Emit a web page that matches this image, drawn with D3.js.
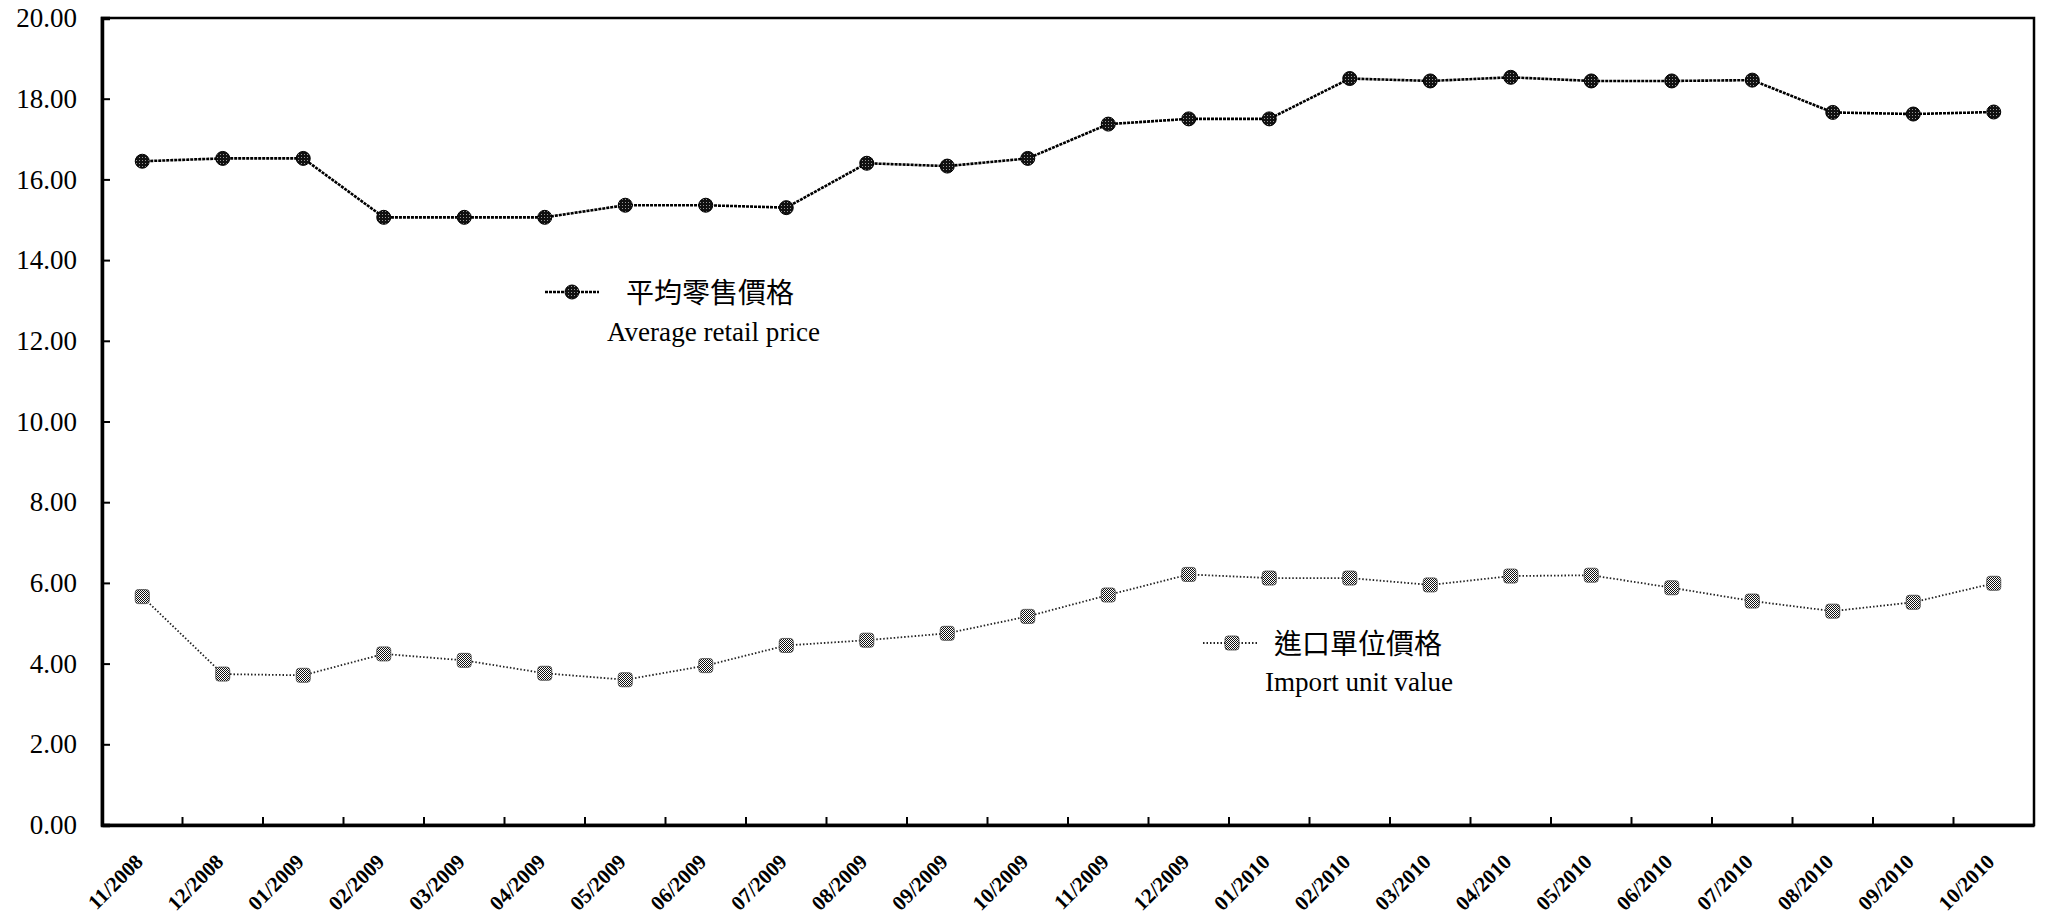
<!DOCTYPE html>
<html>
<head>
<meta charset="utf-8">
<script src="https://cdn.jsdelivr.net/npm/d3@7"></script>
<style>
  body { margin: 0; background: #fff; }
</style>
</head>
<body>
<div id="chart"></div>
<script>
// data
const months = ["11/2008","12/2008","01/2009","02/2009","03/2009","04/2009","05/2009","06/2009",
  "07/2009","08/2009","09/2009","10/2009","11/2009","12/2009","01/2010","02/2010",
  "03/2010","04/2010","05/2010","06/2010","07/2010","08/2010","09/2010","10/2010"];

const retailPrice = [16.45, 16.52, 16.52, 15.06, 15.06, 15.06, 15.36, 15.36,
  15.30, 16.40, 16.33, 16.52, 17.37, 17.50, 17.50, 18.50,
  18.44, 18.53, 18.44, 18.44, 18.46, 17.66, 17.62, 17.67];

const importValue = [5.66, 3.74, 3.71, 4.24, 4.08, 3.76, 3.60, 3.95,
  4.45, 4.58, 4.75, 5.17, 5.70, 6.21, 6.12, 6.12,
  5.95, 6.17, 6.19, 5.88, 5.55, 5.30, 5.52, 5.99];

const yTicks = [0, 2, 4, 6, 8, 10, 12, 14, 16, 18, 20];

const retailLabel = ["平均零售價格", "Average retail price"];
const importLabel = ["進口單位價格", "Import unit value"];

function drawChart() {
  var width = 2046;
  var height = 918;
  var left = 102, right = 2034, top = 18, bottom = 825;

  let svg = d3.select("#chart")
    .append("svg")
    .attr("width", width)
    .attr("height", height);

  let defs = svg.append("defs");
  // dark speckled fill for the retail dots
  let dots = defs.append("pattern").attr("id", "dots")
    .attr("patternUnits", "userSpaceOnUse").attr("width", 3).attr("height", 3);
  dots.append("rect").attr("width", 3).attr("height", 3).attr("fill", "#111");
  dots.append("rect").attr("x", 1).attr("y", 1).attr("width", 1).attr("height", 1).attr("fill", "#999");
  // checker fill for the import markers
  let checker = defs.append("pattern").attr("id", "checker")
    .attr("patternUnits", "userSpaceOnUse").attr("width", 2).attr("height", 2);
  checker.append("rect").attr("width", 2).attr("height", 2).attr("fill", "#fff");
  checker.append("rect").attr("width", 1).attr("height", 1).attr("fill", "#111");
  checker.append("rect").attr("x", 1).attr("y", 1).attr("width", 1).attr("height", 1).attr("fill", "#111");

  var x = d3.scaleBand().domain(months).range([left, right]);
  var y = d3.scaleLinear().domain([0, 20]).range([bottom, top]);
  var cx = d => x(d) + x.bandwidth() / 2;

  // frame
  svg.append("rect")
    .attr("x", left).attr("y", top)
    .attr("width", right - left).attr("height", bottom - top)
    .attr("fill", "none").attr("stroke", "#000").attr("stroke-width", 2.5);

  // y axis
  let yAxis = svg.append("g")
    .attr("transform", `translate(${left},0)`)
    .call(d3.axisLeft(y).tickValues(yTicks).tickSize(-8).tickPadding(25).tickFormat(d3.format(".2f")));
  yAxis.select(".domain").attr("stroke-width", 3.5);
  yAxis.selectAll(".tick line").attr("stroke-width", 2);
  yAxis.selectAll("text")
    .attr("font-family", "'Liberation Serif', serif")
    .attr("font-size", 27)
    .attr("fill", "#000");

  // x axis
  let xAxis = svg.append("g")
    .attr("transform", `translate(0,${bottom})`)
    .call(d3.axisBottom(x).tickSize(0));
  xAxis.select(".domain").attr("stroke-width", 3.5);
  xAxis.selectAll("text")
    .attr("x", 0).attr("y", 0).attr("dy", 0)
    .attr("text-anchor", "end")
    .attr("transform", "translate(2,38) rotate(-45)")
    .attr("font-family", "'Liberation Serif', serif")
    .attr("font-weight", "bold")
    .attr("font-size", 21)
    .attr("fill", "#000");

  // x ticks sit between months and point up
  svg.append("g")
    .selectAll("line")
    .data(months.slice(1))
    .join("line")
    .attr("x1", d => x(d)).attr("x2", d => x(d))
    .attr("y1", bottom).attr("y2", bottom - 8)
    .attr("stroke", "#000").attr("stroke-width", 2);

  // lines
  let line = d3.line().x((d, i) => cx(months[i])).y(d => y(d));

  svg.append("path")
    .datum(retailPrice)
    .attr("d", line)
    .attr("fill", "none")
    .attr("stroke", "#000")
    .attr("stroke-width", 2.6)
    .attr("stroke-dasharray", "3,1");

  svg.append("path")
    .datum(importValue)
    .attr("d", line)
    .attr("fill", "none")
    .attr("stroke", "#222")
    .attr("stroke-width", 1.8)
    .attr("stroke-dasharray", "1.5,2");

  // markers
  svg.append("g")
    .selectAll("circle")
    .data(retailPrice)
    .join("circle")
    .attr("cx", (d, i) => cx(months[i]))
    .attr("cy", d => y(d))
    .attr("r", 7)
    .attr("fill", "url(#dots)")
    .attr("stroke", "#000")
    .attr("stroke-width", 1);

  svg.append("g")
    .selectAll("rect")
    .data(importValue)
    .join("rect")
    .attr("x", (d, i) => cx(months[i]) - 7)
    .attr("y", d => y(d) - 7)
    .attr("width", 14).attr("height", 14)
    .attr("rx", 3)
    .attr("fill", "url(#checker)")
    .attr("stroke", "#444")
    .attr("stroke-width", 0.8);

  // legends
  function legend(lx, ly, label, isRetail) {
    let g = svg.append("g");
    g.append("line")
      .attr("x1", lx).attr("x2", lx + 54)
      .attr("y1", ly).attr("y2", ly)
      .attr("stroke", isRetail ? "#000" : "#222")
      .attr("stroke-width", isRetail ? 2.4 : 1.8)
      .attr("stroke-dasharray", isRetail ? "3,1" : "1.5,2");
    if (isRetail) {
      g.append("circle").attr("cx", lx + 27).attr("cy", ly).attr("r", 7)
        .attr("fill", "url(#dots)").attr("stroke", "#000");
    } else {
      g.append("rect").attr("x", lx + 22).attr("y", ly - 7)
        .attr("width", 14).attr("height", 14).attr("rx", 3)
        .attr("fill", "url(#checker)").attr("stroke", "#444").attr("stroke-width", 0.8);
    }
    return g;
  }

  let g1 = legend(545, 292, retailLabel, true);
  g1.append("text").attr("x", 626).attr("y", 303)
    .attr("font-family", "'Noto Sans CJK TC', sans-serif")
    .attr("font-size", 28).text(retailLabel[0]);
  g1.append("text").attr("x", 607).attr("y", 341)
    .attr("font-family", "'Liberation Serif', serif")
    .attr("font-size", 27)
    .attr("textLength", 213).attr("lengthAdjust", "spacingAndGlyphs")
    .text(retailLabel[1]);

  let g2 = legend(1203, 643, importLabel, false);
  g2.append("text").attr("x", 1274).attr("y", 654)
    .attr("font-family", "'Noto Sans CJK TC', sans-serif")
    .attr("font-size", 28).text(importLabel[0]);
  g2.append("text").attr("x", 1265).attr("y", 691)
    .attr("font-family", "'Liberation Serif', serif")
    .attr("font-size", 27)
    .attr("textLength", 188).attr("lengthAdjust", "spacingAndGlyphs")
    .text(importLabel[1]);
}
drawChart()
</script>
</body>
</html>
